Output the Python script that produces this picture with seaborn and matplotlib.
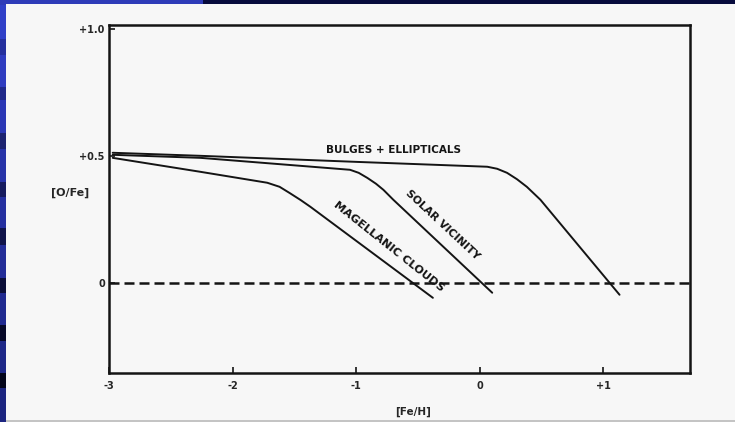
import pandas as pd
import matplotlib
matplotlib.use('Agg')
import matplotlib.pyplot as plt
import seaborn as sns
from matplotlib.patches import Rectangle

# [O/Fe] vs [Fe/H] tracks
bulges_feh = [-2.97, -2.26, -0.99, 0.06, 0.14, 0.22, 0.30, 0.38, 0.49, 1.13]
bulges_ofe = [0.512, 0.50, 0.476, 0.457, 0.449, 0.433, 0.408, 0.378, 0.327, -0.047]

solar_feh = [-2.97, -2.26, -1.05, -0.98, -0.91, -0.84, -0.78, -0.70, 0.10]
solar_ofe = [0.504, 0.492, 0.445, 0.433, 0.413, 0.390, 0.366, 0.327, -0.039]

magellanic_feh = [-2.97, -2.26, -1.72, -1.62, -1.54, -1.45, -1.37, -0.38]
magellanic_ofe = [0.492, 0.437, 0.394, 0.378, 0.354, 0.326, 0.299, -0.059]

x_ticks = [-3, -2, -1, 0, 1]
x_tick_labels = ['-3', '-2', '-1', '0', '+1']
y_ticks = [0, 0.5, 1.0]
y_tick_labels = ['0', '+0.5', '+1.0']

df = pd.concat([
    pd.DataFrame({'feh': bulges_feh, 'ofe': bulges_ofe, 'curve': 'bulges'}),
    pd.DataFrame({'feh': solar_feh, 'ofe': solar_ofe, 'curve': 'solar'}),
    pd.DataFrame({'feh': magellanic_feh, 'ofe': magellanic_ofe, 'curve': 'magellanic'}),
])

sns.set_style('white')
plt.rcParams['font.family'] = ['DejaVu Sans']

W, H = 735, 422
fig = plt.figure(figsize=(W / 100, H / 100), dpi=100, facecolor='#f7f7f7')

# slide frame: blue strip on the left, bar along the top, grey rule at bottom
strip = [(0, 5, '#2e3bb8'), (5, 39, '#3040c8'), (39, 55, '#25309e'), (55, 87, '#2f3cc0'),
         (87, 100, '#20298a'), (100, 133, '#2a37b5'), (133, 149, '#1c2370'),
         (149, 182, '#2733a8'), (182, 197, '#161b5e'), (197, 228, '#2530a0'),
         (228, 245, '#10144a'), (245, 278, '#232d98'), (278, 293, '#0b0e38'),
         (293, 325, '#202a90'), (325, 341, '#060828'), (341, 373, '#1e2888'),
         (373, 388, '#03051a'), (388, 422, '#1c2580')]
for y0, y1, c in strip:
    fig.patches.append(Rectangle((0, 1 - y1 / H), 6 / W, (y1 - y0) / H,
                                 transform=fig.transFigure, color=c, lw=0))
fig.patches.append(Rectangle((0, 1 - 4 / H), 203 / W, 4 / H, transform=fig.transFigure,
                             color='#2e3bb8', lw=0))
fig.patches.append(Rectangle((203 / W, 1 - 4 / H), 1 - 203 / W, 4 / H,
                             transform=fig.transFigure, color='#070b3d', lw=0))
fig.patches.append(Rectangle((6 / W, 0), 1 - 6 / W, 2 / H, transform=fig.transFigure,
                             color='#c4c4c4', lw=0))

ax = fig.add_axes([109 / W, 1 - 373 / H, 581 / W, 348 / H])
ax.set_facecolor('#f7f7f7')

sns.lineplot(data=df, x='feh', y='ofe', units='curve', estimator=None, sort=False,
             color='#141414', lw=1.4, ax=ax)
ax.axhline(0, color='#141414', lw=1.8, ls=(0, (4, 2)))

ax.set_xlim(-3, 1.7)
ax.set_ylim(-0.355, 1.015)
ax.set_xticks(x_ticks)
ax.set_xticklabels(x_tick_labels, fontsize=7, fontweight='bold')
ax.set_yticks(y_ticks)
ax.set_yticklabels(y_tick_labels, fontsize=7, fontweight='bold')
ax.tick_params(direction='in', length=4, width=1.2, color='#141414', bottom=True, left=True)
ax.tick_params(axis='x', pad=6)
ax.tick_params(axis='y', pad=3)
for s in ax.spines.values():
    s.set_linewidth(1.8)
    s.set_color('#141414')

ax.set_xlabel('[Fe/H]', fontsize=7.5, fontweight='bold')
ax.xaxis.set_label_coords(0.523, -0.098)
ax.set_ylabel('[O/Fe]', fontsize=8, fontweight='bold', rotation=0, va='center', ha='center')
ax.yaxis.set_label_coords(-0.067, 0.517)

txt = dict(fontweight='bold', color='#141414', ha='center', va='center',
           rotation_mode='anchor')
ax.text(-0.70, 0.524, 'BULGES + ELLIPTICALS', fontsize=7.5, **txt)
ax.text(-0.30, 0.230, 'SOLAR VICINITY', rotation=-43, fontsize=7.8, **txt)
ax.text(-0.74, 0.144, 'MAGELLANIC CLOUDS', rotation=-38.5, fontsize=8.2, **txt)

fig.savefig('out.png', dpi=100, facecolor=fig.get_facecolor())
